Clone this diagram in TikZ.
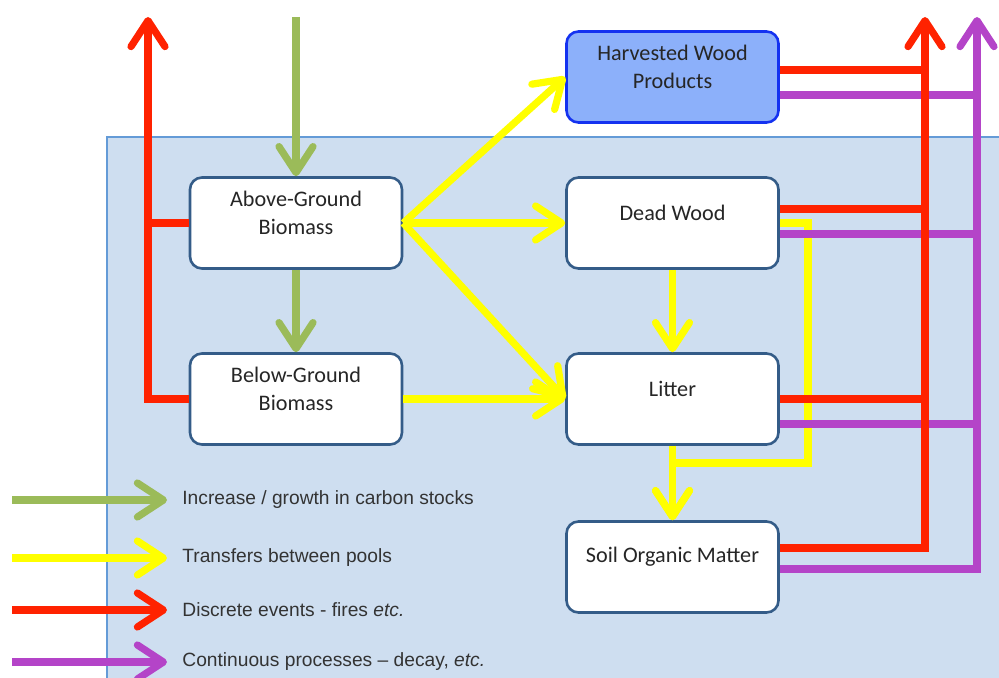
\documentclass[tikz,border=0pt]{standalone}
\usepackage{fontspec}
\setmainfont{Carlito}
\newfontfamily\legendfont{Liberation Sans}
\usepackage{tikz}
\usetikzlibrary{arrows.meta,positioning}

\definecolor{growgreen}{RGB}{155,187,89}
\definecolor{transferyellow}{RGB}{255,255,0}
\definecolor{firered}{RGB}{255,34,0}
\definecolor{decaypurple}{RGB}{180,68,200}
\definecolor{poolborder}{RGB}{52,92,136}
\definecolor{hwpfill}{RGB}{140,176,250}
\definecolor{hwpborder}{RGB}{20,50,240}
\definecolor{landfill}{RGB}{206,222,240}
\definecolor{landborder}{RGB}{100,155,215}

\begin{document}
\begin{tikzpicture}[x=0.5pt,y=-0.5pt,node distance=88pt,on grid,
   pool/.style={draw=poolborder,line width=1.3pt,fill=white,rounded corners=6pt,
      minimum width=106pt,minimum height=45.5pt},
   hwpbox/.style={pool,draw=hwpborder,fill=hwpfill},
   pooltext/.style={font=\fontsize{11.1}{13.8}\selectfont,text=black!85,align=center,yshift=5pt},
   legend/.style={anchor=west,inner sep=0pt,text=black!80,
      font=\legendfont\fontsize{9.6}{11.5}\selectfont},
   flowline/.style={line width=3.6pt},
   flow/.style={flowline,-{Straight Barb[length=13pt,width=17pt,round]}},
   growth/.style={flow,draw=growgreen},
   transfer/.style={flow,draw=transferyellow},
   fire/.style={flow,draw=firered},
   fireline/.style={flowline,draw=firered},
   decay/.style={flow,draw=decaypurple},
   decayline/.style={flowline,draw=decaypurple}]

   \useasboundingbox (0,0) rectangle (999,678);

   % land area
   \fill[landfill] (107,137) rectangle (999,678);
   \draw[landborder,line width=0.8pt] (107,678) -- (107,137) -- (999,137);

   % pools
   \node[pool] (agb) at (296,223) {};
   \node[pool] (bgb) [below=of agb] {};
   \node[pool] (dw) [right=188.25pt of agb] {};
   \node[pool] (litter) [below=of dw] {};
   \node[pool] (soil) [below=84pt of litter] {};
   \node[hwpbox] (hwp) [above=73pt of dw] {};

   \node[pooltext] (agbtext) at (agb) {Above-Ground\\Biomass};
   \node[pooltext] (bgbtext) at (bgb) {Below-Ground\\Biomass};
   \node[pooltext] (dwtext) at (dw) {Dead Wood};
   \node[pooltext] (littertext) at (litter) {Litter};
   \node[pooltext] (soiltext) at (soil) {Soil Organic Matter};
   \node[pooltext] (hwptext) at (hwp) {Harvested Wood\\Products};

   \coordinate (growin) at (296,17);
   \coordinate (fireL) at (148,17);
   \coordinate (fireR) at (925,17);
   \coordinate (decayR) at (977,17);
   \coordinate (loopR) at (808,463);

   % transfers
   \draw[transfer] (agb.east) -- (hwp.west);
   \draw[transfer] (agb.east) -- (dw.west);
   \draw[transfer] (agb.east) -- (litter.west);
   \draw[transfer] (bgb.east) -- (litter.west);
   \draw[transfer] (dw.south) -- (litter.north);
   \draw[transfer] (litter.south) -- (soil.north);
   \draw[transfer] (dw.east) -| (loopR) -| (soil.north);

   % growth
   \draw[growth] (growin) -- (agb.north);
   \draw[growth] (agb.south) -- (bgb.north);

   % decay
   \draw[decay] ([yshift=-1pt]soil.east) -| (decayR);
   \draw[decayline] ([yshift=-9pt]hwp.east) coordinate (hwpd) -- (hwpd -| decayR);
   \draw[decayline] ([yshift=-5.5pt]dw.east) coordinate (dwd) -- (dwd -| decayR);
   \draw[decayline] ([yshift=-12.5pt]litter.east) coordinate (litterd) -- (litterd -| decayR);

   % fires
   \draw[fire] ([yshift=9.5pt]soil.east) -| (fireR);
   \draw[fireline] ([yshift=3.5pt]hwp.east) coordinate (hwpf) -- (hwpf -| fireR);
   \draw[fireline] ([yshift=7pt]dw.east) coordinate (dwf) -- (dwf -| fireR);
   \draw[fireline] (litter.east) -- (litter.east -| fireR);
   \draw[fire] (bgb.west) -| (fireL);
   \draw[fireline] (agb.west) -- (agb.west -| fireL);

   % key
   \coordinate (keyx) at (12,0);
   \node[legend] (lgrow) at (182,500) {Increase / growth in carbon stocks};
   \node[legend] (ltransfer) at (182,558) {Transfers between pools};
   \node[legend] (lfire) at (182,610) {Discrete events - fires \textit{etc.}};
   \node[legend] (ldecay) at (182,662) {Continuous processes – decay, \textit{etc.}};

   \draw[growth] (lgrow.west -| keyx) -- ([xshift=-7.5pt]lgrow.west);
   \draw[transfer] (ltransfer.west -| keyx) -- ([xshift=-7.5pt]ltransfer.west);
   \draw[fire] (lfire.west -| keyx) -- ([xshift=-7.5pt]lfire.west);
   \draw[decay] (ldecay.west -| keyx) -- ([xshift=-7.5pt]ldecay.west);
\end{tikzpicture}
\end{document}
